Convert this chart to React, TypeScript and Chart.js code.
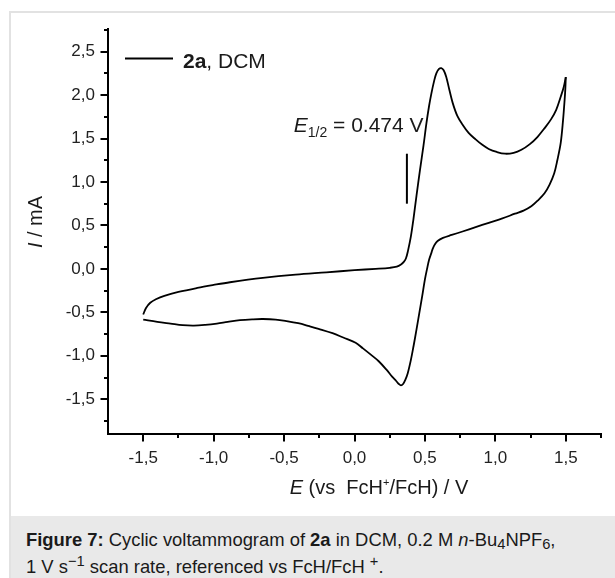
import React, { useEffect, useRef } from 'react';
import { Chart, registerables } from 'chart.js';

Chart.register(...registerables);

// ---- data ----
const forwardE = [-1.5, -1.48, -1.45, -1.41, -1.35, -1.25, -1.116, -1.0, -0.884, -0.651, -0.418, -0.2, 0.0, 0.15, 0.25, 0.3, 0.33, 0.35, 0.365, 0.38, 0.40, 0.418, 0.44, 0.465, 0.49, 0.511, 0.53, 0.546, 0.565, 0.581, 0.60, 0.616, 0.633, 0.651, 0.672, 0.697, 0.73, 0.767, 0.81, 0.86, 0.905, 0.953, 1.01, 1.069, 1.13, 1.185, 1.245, 1.30, 1.35, 1.395, 1.432, 1.464, 1.485, 1.5];
const forwardI = [-0.525, -0.45, -0.39, -0.35, -0.31, -0.265, -0.219, -0.185, -0.154, -0.104, -0.066, -0.04, -0.015, 0.0, 0.012, 0.025, 0.05, 0.08, 0.12, 0.21, 0.37, 0.567, 0.84, 1.14, 1.42, 1.68, 1.88, 2.02, 2.16, 2.25, 2.30, 2.31, 2.285, 2.21, 2.07, 1.91, 1.76, 1.66, 1.565, 1.49, 1.43, 1.38, 1.345, 1.325, 1.335, 1.37, 1.435, 1.52, 1.62, 1.72, 1.83, 1.98, 2.09, 2.207];
const reverseE = [1.5, 1.497, 1.492, 1.48, 1.464, 1.44, 1.418, 1.385, 1.349, 1.30, 1.255, 1.2, 1.139, 1.05, 0.953, 0.86, 0.767, 0.69, 0.628, 0.59, 0.57, 0.555, 0.546, 0.53, 0.515, 0.50, 0.48, 0.46, 0.44, 0.419, 0.40, 0.378, 0.36, 0.345, 0.33, 0.315, 0.296, 0.267, 0.227, 0.17, 0.118, 0.06, 0.008, -0.08, -0.156, -0.255, -0.32, -0.40, -0.484, -0.56, -0.65, -0.72, -0.813, -0.9, -0.977, -1.06, -1.14, -1.22, -1.306, -1.40, -1.5];
const reverseI = [2.207, 2.08, 1.95, 1.70, 1.45, 1.25, 1.10, 0.97, 0.87, 0.785, 0.72, 0.67, 0.635, 0.58, 0.53, 0.48, 0.43, 0.39, 0.356, 0.32, 0.28, 0.23, 0.184, 0.107, 0.0, -0.12, -0.32, -0.51, -0.70, -0.89, -1.05, -1.20, -1.28, -1.325, -1.34, -1.325, -1.29, -1.24, -1.16, -1.06, -0.99, -0.915, -0.85, -0.79, -0.74, -0.69, -0.66, -0.625, -0.60, -0.583, -0.577, -0.58, -0.59, -0.61, -0.63, -0.645, -0.653, -0.648, -0.63, -0.61, -0.585];

const xMajorTicks = [-1.5, -1.0, -0.5, 0.0, 0.5, 1.0, 1.5];
const xMinorTicks = [-1.25, -0.75, -0.25, 0.25, 0.75, 1.25, 1.75];
const yMajorTicks = [-1.5, -1.0, -0.5, 0.0, 0.5, 1.0, 1.5, 2.0, 2.5];
const yMinorTicks = [-1.75, -1.25, -0.75, -0.25, 0.25, 0.75, 1.25, 1.75, 2.25, 2.75];

const seriesName = '2a';
const seriesSolvent = ', DCM';
const eHalfText = '0.474 V';
const eHalfMarkerE = 0.372;
const eHalfMarkerI = [0.75, 1.325];
const eHalfLabelAt = [0.49, 1.58];

const FAMILY = '"Liberation Sans", Arial, Helvetica, sans-serif';

type Seg = { t: string; size: number; style?: string; weight?: string; dy?: number };

function drawRich(ctx: CanvasRenderingContext2D, segs: Seg[], x: number, y: number, align: 'left' | 'center' | 'right') {
  const fontOf = (s: Seg) => `${s.style || 'normal'} ${s.weight || 'normal'} ${s.size}px ${FAMILY}`;
  let w = 0;
  const widths: number[] = [];
  for (const s of segs) {
    ctx.font = fontOf(s);
    const m = ctx.measureText(s.t).width;
    widths.push(m);
    w += m;
  }
  let cx = align === 'left' ? x : align === 'center' ? x - w / 2 : x - w;
  ctx.textAlign = 'left';
  ctx.textBaseline = 'alphabetic';
  segs.forEach((s, i) => {
    ctx.font = fontOf(s);
    ctx.fillText(s.t, cx, y + (s.dy || 0));
    cx += widths[i];
  });
}

const isIn = (v: number, arr: number[]) => arr.some((a) => Math.abs(a - v) < 1e-6);
const fmt = (v: number) => v.toFixed(1).replace('.', ',');

const decorPlugin = {
  id: 'cvDecor',
  afterDraw(chart: any) {
    const { ctx, chartArea } = chart;
    const xs = chart.scales.x;
    const ys = chart.scales.y;
    ctx.save();
    ctx.strokeStyle = '#000';
    ctx.lineWidth = 2;
    ctx.lineCap = 'butt';
    const drawX = (vals: number[], len: number) => {
      for (const v of vals) {
        const px = Math.round(xs.getPixelForValue(v));
        ctx.beginPath();
        ctx.moveTo(px, chartArea.bottom);
        ctx.lineTo(px, chartArea.bottom + len);
        ctx.stroke();
      }
    };
    const drawY = (vals: number[], len: number) => {
      for (const v of vals) {
        const py = Math.round(ys.getPixelForValue(v));
        ctx.beginPath();
        ctx.moveTo(chartArea.left, py);
        ctx.lineTo(chartArea.left - len, py);
        ctx.stroke();
      }
    };
    drawX(xMajorTicks, 7.5);
    drawX(xMinorTicks, 4);
    drawY(yMajorTicks, 7.5);
    drawY(yMinorTicks, 4);

    ctx.fillStyle = '#1a1a1a';
    // x title
    drawRich(ctx, [
      { t: 'E', size: 20, style: 'italic' },
      { t: ' (vs  FcH', size: 20 },
      { t: '+', size: 11, dy: -8 },
      { t: '/FcH) / V', size: 20 },
    ], 379, 494, 'center');

    // y title
    ctx.save();
    ctx.translate(35, 222);
    ctx.rotate(-Math.PI / 2);
    drawRich(ctx, [
      { t: 'I', size: 20, style: 'italic' },
      { t: ' / mA', size: 20 },
    ], 0, 7, 'center');
    ctx.restore();

    // legend
    ctx.beginPath();
    ctx.lineWidth = 1.8;
    ctx.moveTo(125, 58.5);
    ctx.lineTo(173, 58.5);
    ctx.stroke();
    drawRich(ctx, [
      { t: seriesName, size: 21, weight: 'bold' },
      { t: seriesSolvent, size: 21 },
    ], 183, 68, 'left');

    // E1/2 marker
    const bx = xs.getPixelForValue(eHalfMarkerE);
    ctx.beginPath();
    ctx.lineWidth = 2;
    ctx.moveTo(bx, ys.getPixelForValue(eHalfMarkerI[0]));
    ctx.lineTo(bx, ys.getPixelForValue(eHalfMarkerI[1]));
    ctx.stroke();
    drawRich(ctx, [
      { t: 'E', size: 21, style: 'italic' },
      { t: '1/2', size: 14, dy: 5 },
      { t: ' = ' + eHalfText, size: 21 },
    ], xs.getPixelForValue(eHalfLabelAt[0]), ys.getPixelForValue(eHalfLabelAt[1]), 'right');
    ctx.restore();
  },
};

export default function App() {
  const ref = useRef<HTMLCanvasElement | null>(null);
  useEffect(() => {
    if (!ref.current) return;
    const fwd = forwardE.map((e, i) => ({ x: e, y: forwardI[i] }));
    const rev = reverseE.map((e, i) => ({ x: e, y: reverseI[i] }));
    const tickFont = { family: FAMILY, size: 17 };
    const chart = new Chart(ref.current, {
      type: 'line',
      data: {
        datasets: [
          { data: fwd, borderColor: '#000', borderWidth: 1.8, pointRadius: 0, tension: 0.35, fill: false },
          { data: rev, borderColor: '#000', borderWidth: 1.8, pointRadius: 0, tension: 0.35, fill: false },
        ],
      },
      options: {
        responsive: false,
        animation: false,
        events: [],
        layout: { padding: { left: 0, right: 4, top: 29, bottom: 0 } },
        plugins: { legend: { display: false }, tooltip: { enabled: false }, title: { display: false } },
        scales: {
          x: {
            type: 'linear',
            min: -1.75,
            max: 1.75,
            grid: { drawOnChartArea: false, drawTicks: false },
            border: { display: true, color: '#000', width: 2 },
            ticks: {
              stepSize: 0.25,
              autoSkip: false,
              maxRotation: 0,
              minRotation: 0,
              padding: 14,
              color: '#222',
              font: tickFont,
              callback: (v: any) => (isIn(Number(v), xMajorTicks) ? fmt(Number(v)) : ''),
            },
            afterFit: (s: any) => { s.height = 81; },
          },
          y: {
            type: 'linear',
            min: -1.9,
            max: 2.76,
            grid: { drawOnChartArea: false, drawTicks: false },
            border: { display: true, color: '#000', width: 2 },
            ticks: {
              stepSize: 0.25,
              autoSkip: false,
              padding: 13,
              color: '#222',
              font: tickFont,
              callback: (v: any) => (isIn(Number(v), yMajorTicks) ? fmt(Number(v)) : ''),
            },
            afterFit: (s: any) => { s.width = 108; },
          },
        },
      },
      plugins: [decorPlugin],
    } as any);
    return () => chart.destroy();
  }, []);

  const sub = { fontSize: '80%', position: 'relative' as const, top: 3 };
  const sup = { fontSize: '80%', position: 'relative' as const, top: -7 };

  return (
    <div>
      <div style={{ position: 'absolute', left: 9, top: 11, width: 606, height: 567, borderLeft: '2px solid #e2e2e2', borderTop: '2px solid #e2e2e2', boxSizing: 'border-box', background: '#fff' }} />
      <canvas ref={ref} width={615} height={515} style={{ position: 'absolute', left: 0, top: 0, width: 615, height: 515 }} />
      <div style={{ position: 'absolute', left: 11, top: 516, width: 604, height: 62, background: '#e9e9e9' }} />
      <div style={{ position: 'absolute', left: 26, top: 527, fontFamily: FAMILY, fontSize: 18.4, lineHeight: '25px', color: '#1a1a1a', whiteSpace: 'nowrap' }}>
        <b>Figure 7:</b> Cyclic voltammogram of <b>2a</b> in DCM, 0.2 M <i>n</i>-Bu<span style={sub}>4</span>NPF<span style={sub}>6</span>,
        <br />
        1 V s<span style={sup}>−1</span> scan rate, referenced vs FcH/FcH <span style={sup}>+</span>.
      </div>
    </div>
  );
}
